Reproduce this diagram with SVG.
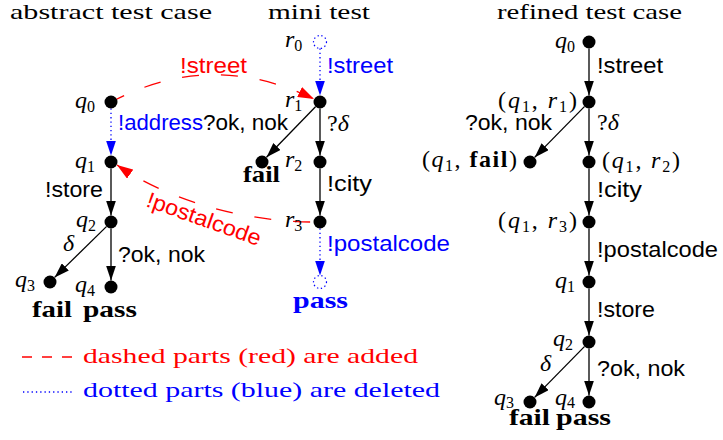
<svg xmlns="http://www.w3.org/2000/svg" width="723" height="440" viewBox="0 0 723 440">
<style>
.ti{font-family:"Liberation Serif","Times New Roman",serif;font-size:21px;fill:#000}
.sf{font-family:"Liberation Sans",Arial,sans-serif;font-size:22px;fill:#000}
.m{font-family:"Liberation Serif","Times New Roman",serif;font-size:24px;font-style:italic;fill:#000}
.rm{font-family:"Liberation Serif","Times New Roman",serif;font-size:24px;fill:#000}
.it{font-style:italic}
.sub{font-style:normal;font-size:16px}
.bf{font-family:"Liberation Serif","Times New Roman",serif;font-size:23px;font-weight:bold;fill:#000}
.bft{font-weight:bold;font-style:normal}
.node{fill:#000}
.dnode{fill:none;stroke:#00f;stroke-width:1.2;stroke-dasharray:1.3 2.6}
.e{stroke:#000;stroke-width:1.3;fill:none}
.dot{stroke:#00f;stroke-width:1.3;fill:none;stroke-dasharray:1.3 3}
.dash{stroke:#f00;stroke-width:1.3;fill:none;stroke-dasharray:17 22}
.red{fill:#f00}
.blue{fill:#00f}
</style>
<defs>
<marker id="ak" viewBox="0 0 15 10" markerWidth="15" markerHeight="10" refX="15" refY="5" orient="auto" markerUnits="userSpaceOnUse"><path d="M0,0 L15,5 L0,10 Z" fill="#000"/></marker>
<marker id="ab" viewBox="0 0 15 10" markerWidth="15" markerHeight="10" refX="15" refY="5" orient="auto" markerUnits="userSpaceOnUse"><path d="M0,0 L15,5 L0,10 Z" fill="#00f"/></marker>
<marker id="ar" viewBox="0 0 16 11" markerWidth="16" markerHeight="11" refX="16" refY="5.5" orient="auto" markerUnits="userSpaceOnUse"><path d="M0,0 L16,5.5 L0,11 Z" fill="#f00"/></marker>
</defs>

<g id="titles">
<text class="ti" x="10" y="19" textLength="202" lengthAdjust="spacingAndGlyphs">abstract test case</text>
<text class="ti" x="268" y="19" textLength="102" lengthAdjust="spacingAndGlyphs">mini test</text>
<text class="ti" x="497" y="19" textLength="185" lengthAdjust="spacingAndGlyphs">refined test case</text>
</g>

<g id="connectors">
<line class="dot" x1="111" y1="108.5" x2="111" y2="155.5" marker-end="url(#ab)"/>
<line class="e" x1="111" y1="168.5" x2="111" y2="215.5" marker-end="url(#ak)"/>
<line class="e" x1="106.4" y1="226.6" x2="54.6" y2="277.4" marker-end="url(#ak)"/>
<line class="e" x1="111" y1="228.5" x2="111" y2="280.5" marker-end="url(#ak)"/>
<line class="dot" x1="320" y1="48.5" x2="320" y2="95.5" marker-end="url(#ab)"/>
<line class="e" x1="315.5" y1="106.7" x2="266.5" y2="157.3" marker-end="url(#ak)"/>
<line class="e" x1="320" y1="108.5" x2="320" y2="155.5" marker-end="url(#ak)"/>
<line class="e" x1="320" y1="168.5" x2="320" y2="215.5" marker-end="url(#ak)"/>
<line class="dot" x1="320" y1="228.5" x2="320" y2="275.5" marker-end="url(#ab)"/>
<path class="dash" d="M115,100 Q213,50 314,99" stroke-dashoffset="7" marker-end="url(#ar)"/>
<path class="dash" d="M313,222 C255,222 175,205 117,165" stroke-dashoffset="36" marker-end="url(#ar)"/>
<line class="e" x1="589" y1="48.5" x2="589" y2="95.5" marker-end="url(#ak)"/>
<line class="e" x1="584.4" y1="106.6" x2="534.6" y2="157.4" marker-end="url(#ak)"/>
<line class="e" x1="589" y1="108.5" x2="589" y2="155.5" marker-end="url(#ak)"/>
<line class="e" x1="589" y1="168.5" x2="589" y2="215.5" marker-end="url(#ak)"/>
<line class="e" x1="589" y1="228.5" x2="589" y2="275.5" marker-end="url(#ak)"/>
<line class="e" x1="589" y1="288.5" x2="589" y2="335.5" marker-end="url(#ak)"/>
<line class="e" x1="584.4" y1="346.6" x2="534.6" y2="397.4" marker-end="url(#ak)"/>
<line class="e" x1="589" y1="348.5" x2="589" y2="395.5" marker-end="url(#ak)"/>
</g>

<g id="edge-labels">
<text class="sf red" x="180" y="73" textLength="67" lengthAdjust="spacingAndGlyphs">!street</text>
<text class="sf blue" x="118" y="130" textLength="85" lengthAdjust="spacingAndGlyphs">!address</text>
<text class="sf" x="203" y="130" textLength="85" lengthAdjust="spacingAndGlyphs">?ok, nok</text>
<text class="sf" x="45" y="197" textLength="58" lengthAdjust="spacingAndGlyphs">!store</text>
<text class="m" x="63" y="251">δ</text>
<text class="sf" x="118" y="262" textLength="87" lengthAdjust="spacingAndGlyphs">?ok, nok</text>
<text class="sf red" transform="translate(145,206) rotate(19.5)" x="0" y="0" textLength="120" lengthAdjust="spacingAndGlyphs">!postalcode</text>
<text class="sf blue" x="327" y="73" textLength="66" lengthAdjust="spacingAndGlyphs">!street</text>
<text class="rm" x="327" y="131">?<tspan class="it">δ</tspan></text>
<text class="sf" x="327" y="191" textLength="45" lengthAdjust="spacingAndGlyphs">!city</text>
<text class="sf blue" x="327" y="251" textLength="123" lengthAdjust="spacingAndGlyphs">!postalcode</text>
<text class="sf" x="597" y="73" textLength="66" lengthAdjust="spacingAndGlyphs">!street</text>
<text class="sf" x="465" y="130" textLength="87" lengthAdjust="spacingAndGlyphs">?ok, nok</text>
<text class="rm" x="597" y="130">?<tspan class="it">δ</tspan></text>
<text class="sf" x="597" y="197" textLength="45" lengthAdjust="spacingAndGlyphs">!city</text>
<text class="sf" x="597" y="257" textLength="121" lengthAdjust="spacingAndGlyphs">!postalcode</text>
<text class="sf" x="597" y="317" textLength="58" lengthAdjust="spacingAndGlyphs">!store</text>
<text class="m" x="540" y="371">δ</text>
<text class="sf" x="597" y="376" textLength="88" lengthAdjust="spacingAndGlyphs">?ok, nok</text>
</g>

<g id="a-q0"><circle class="node" cx="111" cy="102" r="6.5"/><text class="m" x="75" y="108">q<tspan class="sub" dy="4">0</tspan></text></g>
<g id="a-q1"><circle class="node" cx="111" cy="162" r="6.5"/><text class="m" x="75" y="168">q<tspan class="sub" dy="4">1</tspan></text></g>
<g id="a-q2"><circle class="node" cx="111" cy="222" r="6.5"/><text class="m" x="76" y="227">q<tspan class="sub" dy="4">2</tspan></text></g>
<g id="a-q3"><circle class="node" cx="50" cy="282" r="6.5"/><text class="m" x="15" y="287">q<tspan class="sub" dy="4">3</tspan></text><text class="bf" x="32" y="317" textLength="40" lengthAdjust="spacingAndGlyphs">fail</text></g>
<g id="a-q4"><circle class="node" cx="111" cy="287" r="6.5"/><text class="m" x="75" y="292">q<tspan class="sub" dy="4">4</tspan></text><text class="bf" x="83" y="317" textLength="54" lengthAdjust="spacingAndGlyphs">pass</text></g>

<g id="m-r0"><circle class="dnode" cx="320" cy="42" r="6.5"/><text class="m" x="285" y="47">r<tspan class="sub" dy="4">0</tspan></text></g>
<g id="m-r1"><circle class="node" cx="320" cy="102" r="6.5"/><text class="m" x="285" y="107">r<tspan class="sub" dy="4">1</tspan></text></g>
<g id="m-fail"><circle class="node" cx="262" cy="162" r="6.5"/><text class="bf" x="243" y="182" textLength="37" lengthAdjust="spacingAndGlyphs">fail</text></g>
<g id="m-r2"><circle class="node" cx="320" cy="162" r="6.5"/><text class="m" x="285" y="167">r<tspan class="sub" dy="4">2</tspan></text></g>
<g id="m-r3"><circle class="node" cx="320" cy="222" r="6.5"/><text class="m" x="285" y="227">r<tspan class="sub" dy="4">3</tspan></text></g>
<g id="m-pass"><circle class="dnode" cx="320" cy="282" r="6.5"/><text class="bf blue" x="293" y="308" textLength="55" lengthAdjust="spacingAndGlyphs">pass</text></g>

<g id="r-q0"><circle class="node" cx="589" cy="42" r="6.5"/><text class="m" x="555" y="48">q<tspan class="sub" dy="4">0</tspan></text></g>
<g id="r-q1r1"><circle class="node" cx="589" cy="102" r="6.5"/><text class="rm" x="498" y="108" textLength="79" lengthAdjust="spacing">(<tspan class="it">q</tspan><tspan class="sub" dy="4">1</tspan><tspan dy="-4">, </tspan><tspan class="it">r</tspan><tspan class="sub" dy="4">1</tspan><tspan dy="-4">)</tspan></text></g>
<g id="r-q1fail"><circle class="node" cx="530" cy="162" r="6.5"/><text class="rm" x="422" y="167" textLength="95" lengthAdjust="spacing">(<tspan class="it">q</tspan><tspan class="sub" dy="4">1</tspan><tspan dy="-4">, </tspan><tspan class="bft">fail</tspan>)</text></g>
<g id="r-q1r2"><circle class="node" cx="589" cy="162" r="6.5"/><text class="rm" x="602" y="168" textLength="78" lengthAdjust="spacing">(<tspan class="it">q</tspan><tspan class="sub" dy="4">1</tspan><tspan dy="-4">, </tspan><tspan class="it">r</tspan><tspan class="sub" dy="4">2</tspan><tspan dy="-4">)</tspan></text></g>
<g id="r-q1r3"><circle class="node" cx="589" cy="222" r="6.5"/><text class="rm" x="498" y="228" textLength="79" lengthAdjust="spacing">(<tspan class="it">q</tspan><tspan class="sub" dy="4">1</tspan><tspan dy="-4">, </tspan><tspan class="it">r</tspan><tspan class="sub" dy="4">3</tspan><tspan dy="-4">)</tspan></text></g>
<g id="r-q1"><circle class="node" cx="589" cy="282" r="6.5"/><text class="m" x="555" y="288">q<tspan class="sub" dy="4">1</tspan></text></g>
<g id="r-q2"><circle class="node" cx="589" cy="342" r="6.5"/><text class="m" x="553" y="346">q<tspan class="sub" dy="4">2</tspan></text></g>
<g id="r-q3"><circle class="node" cx="530" cy="402" r="6.5"/><text class="m" x="494" y="405">q<tspan class="sub" dy="3">3</tspan></text><text class="bf" x="509" y="425" textLength="41" lengthAdjust="spacingAndGlyphs">fail</text></g>
<g id="r-q4"><circle class="node" cx="589" cy="402" r="6.5"/><text class="m" x="555" y="405">q<tspan class="sub" dy="3">4</tspan></text><text class="bf" x="556" y="425" textLength="55" lengthAdjust="spacingAndGlyphs">pass</text></g>

<g id="legend">
<line x1="22" y1="357" x2="72" y2="357" stroke="#f00" stroke-width="1.3" stroke-dasharray="10 10"/>
<text class="ti red" x="83" y="363" textLength="335" lengthAdjust="spacingAndGlyphs">dashed parts (red) are added</text>
<line class="dot" x1="23" y1="392" x2="72" y2="392"/>
<text class="ti blue" x="83" y="397" textLength="357" lengthAdjust="spacingAndGlyphs">dotted parts (blue) are deleted</text>
</g>
</svg>
